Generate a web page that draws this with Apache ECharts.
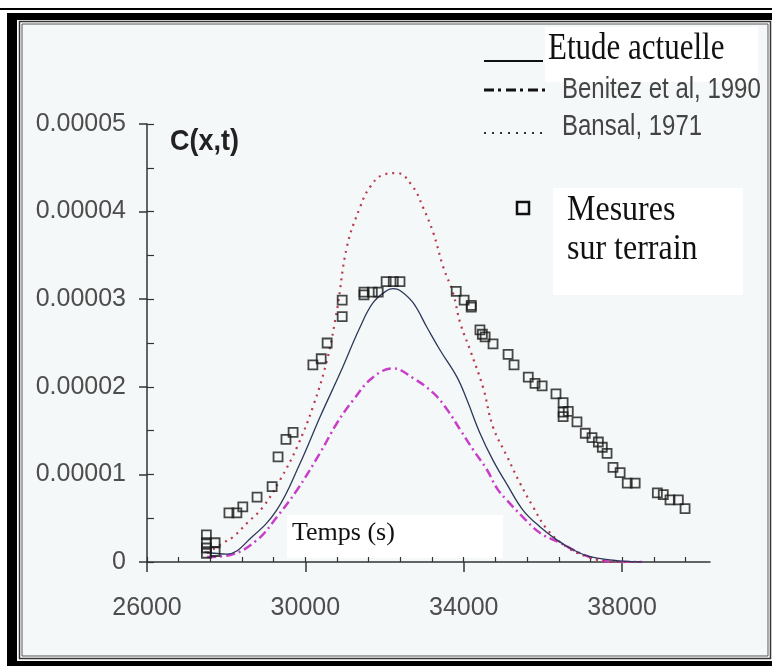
<!DOCTYPE html>
<html>
<head>
<meta charset="utf-8">
<script src="https://cdn.jsdelivr.net/npm/echarts/dist/echarts.min.js"></script>
<style>html,body{margin:0;padding:0;background:#fff;}#c{width:772px;height:666px;}</style>
</head>
<body>
<div id="c"></div>
<script>
// ---- data ----
const xMajorTicks = [26000, 30000, 34000, 38000];
const xMinorTicks = [26000, 26800, 27600, 28400, 29200, 30000, 30800, 31600, 32400, 33200, 34000, 34800, 35600, 36400, 37200, 38000, 38800, 39600];
const yMajorTicks = [0, 0.00001, 0.00002, 0.00003, 0.00004, 0.00005];
const yTickLabels = ['0', '0.00001', '0.00002', '0.00003', '0.00004', '0.00005'];
const yMinorTicks = [0, 0.000005, 0.00001, 0.000015, 0.00002, 0.000025, 0.00003, 0.000035, 0.00004, 0.000045, 0.00005];

// Etude actuelle (solid)
const etudeT = [27450, 28020, 28650, 29280, 29870, 30370, 30880, 31380, 31710, 32060, 32220, 32390, 32720, 33070, 33400, 33830, 34090, 34410, 34740, 35100, 35500, 35930, 36360, 36760, 37190, 37770, 38030, 38500];
const etudeC = [1.14e-6, 0.91e-6, 2.85e-6, 5.94e-6, 1.13e-5, 1.655e-5, 2.16e-5, 2.68e-5, 2.96e-5, 3.10e-5, 3.12e-5, 3.10e-5, 2.96e-5, 2.68e-5, 2.42e-5, 2.11e-5, 1.84e-5, 1.47e-5, 1.16e-5, 0.88e-5, 0.59e-5, 0.40e-5, 0.25e-5, 0.14e-5, 0.06e-5, 0.02e-5, 0.01e-5, 0];

// Benitez et al, 1990 (dash-dot)
const benitezT = [27520, 28100, 28780, 29280, 29790, 30370, 30800, 31210, 31710, 32220, 32720, 33230, 33580, 33910, 34240, 34590, 34840, 35100, 35500, 35930, 36430, 36940, 37450, 37950, 38500];
const benitezC = [0.57e-6, 0.80e-6, 2.51e-6, 5.14e-6, 8.22e-6, 1.244e-5, 1.587e-5, 1.85e-5, 2.11e-5, 2.21e-5, 2.10e-5, 1.93e-5, 1.74e-5, 1.51e-5, 1.28e-5, 1.05e-5, 0.84e-5, 0.70e-5, 0.51e-5, 0.33e-5, 0.22e-5, 0.10e-5, 0.02e-5, 0, 0];

// Bansal, 1971 (dotted)
const bansalT = [27520, 27920, 28170, 28530, 28930, 29360, 29790, 30190, 30550, 30800, 31050, 31380, 31630, 31960, 32320, 32720, 32970, 33230, 33480, 33730, 33910, 34160, 34490, 34740, 35100, 35420, 35750, 36110, 36610, 37120, 37770, 38500];
const bansalC = [1.03e-6, 2.17e-6, 2.85e-6, 4.45e-6, 6.28e-6, 9.36e-6, 1.313e-5, 1.77e-5, 2.31e-5, 2.88e-5, 3.60e-5, 4.05e-5, 4.28e-5, 4.42e-5, 4.44e-5, 4.28e-5, 4.05e-5, 3.76e-5, 3.37e-5, 3.07e-5, 2.73e-5, 2.42e-5, 1.99e-5, 1.54e-5, 1.20e-5, 0.90e-5, 0.63e-5, 0.37e-5, 0.17e-5, 0.06e-5, 0, 0];

// Mesures sur terrain (squares)
const mesuresT = [27500, 27500, 27500, 27500, 27720, 27720, 28070, 28270, 28420, 28780, 29160, 29310, 29510, 29690, 30190, 30400, 30550, 30930, 30930, 31480, 31480, 31690, 31840, 32040, 32220, 32390, 33810, 34010, 34190, 34190, 34410, 34470, 34540, 34740, 35120, 35270, 35630, 35800, 35980, 36330, 36510, 36510, 36640, 36510, 36860, 37070, 37240, 37400, 37500, 37620, 37770, 37950, 38130, 38330, 38890, 39040, 39210, 39420, 39590];
const mesuresC = [3.1e-6, 2.2e-6, 1.6e-6, 1.0e-6, 2.2e-6, 1.2e-6, 5.6e-6, 5.6e-6, 6.3e-6, 7.4e-6, 8.6e-6, 1.20e-5, 1.40e-5, 1.48e-5, 2.25e-5, 2.32e-5, 2.50e-5, 2.80e-5, 2.99e-5, 3.08e-5, 3.05e-5, 3.08e-5, 3.08e-5, 3.20e-5, 3.20e-5, 3.20e-5, 3.09e-5, 2.99e-5, 2.93e-5, 2.91e-5, 2.65e-5, 2.60e-5, 2.57e-5, 2.49e-5, 2.37e-5, 2.25e-5, 2.11e-5, 2.04e-5, 2.01e-5, 1.92e-5, 1.82e-5, 1.71e-5, 1.72e-5, 1.66e-5, 1.60e-5, 1.47e-5, 1.42e-5, 1.37e-5, 1.31e-5, 1.24e-5, 1.08e-5, 1.02e-5, 0.90e-5, 0.90e-5, 0.79e-5, 0.77e-5, 0.71e-5, 0.71e-5, 0.61e-5];

// ---- chart ----
const zip = (a, b) => a.map((v, i) => [v, b[i]]);
const SANS = "'Liberation Sans', Arial, sans-serif";
const SERIF = "'Liberation Serif', 'DejaVu Serif', serif";
const axisColor = '#333';
const labelColor = '#4d4d4d';
const X_MIN = 26000, X_MAX = 40220, Y_MIN = 0, Y_MAX = 0.00005;

const chart = echarts.init(document.getElementById('c'), null, {renderer: 'canvas'});

const frame = [
  {type: 'rect', z: -10, shape: {x: 0, y: 8, width: 772, height: 2}, style: {fill: '#000'}},
  {type: 'rect', z: -10, shape: {x: 7, y: 13, width: 765, height: 7}, style: {fill: '#000'}},
  {type: 'rect', z: -10, shape: {x: 7, y: 13, width: 10, height: 653}, style: {fill: '#000'}},
  {type: 'rect', z: -10, shape: {x: 7, y: 661, width: 765, height: 5}, style: {fill: '#000'}},
  {type: 'rect', z: -10, shape: {x: 19.5, y: 21.5, width: 751, height: 637}, style: {fill: 'none', stroke: '#333', lineWidth: 1.5}},
  {type: 'rect', z: -10, shape: {x: 22, y: 24, width: 746, height: 632}, style: {fill: '#f5f8f8', stroke: '#555', lineWidth: 1}},
  // white label boxes
  {type: 'rect', z: -5, shape: {x: 545, y: 27, width: 213, height: 55}, style: {fill: '#fff'}},
  {type: 'rect', z: -5, shape: {x: 553, y: 188, width: 190, height: 107}, style: {fill: '#fff'}},
  {type: 'rect', z: -5, shape: {x: 287, y: 515, width: 216, height: 43}, style: {fill: '#fff'}}
];

const legendEls = [
  {type: 'line', z: 5, shape: {x1: 484, y1: 61, x2: 543, y2: 61}, style: {stroke: '#111', lineWidth: 2}},
  {type: 'text', z: 5, x: 548, y: 49, scaleY: 1.2, style: {text: 'Etude actuelle', fontFamily: SERIF, fontSize: 31, fill: '#111', align: 'left', verticalAlign: 'middle'}},
  {type: 'line', z: 5, shape: {x1: 484, y1: 90, x2: 545, y2: 90}, style: {stroke: '#111', lineWidth: 3, lineDash: [10, 4, 3, 5]}},
  {type: 'text', z: 5, x: 562, y: 90, scaleY: 1.2, style: {text: 'Benitez et al, 1990', fontFamily: SANS, fontSize: 24, fill: '#444', align: 'left', verticalAlign: 'middle'}},
  {type: 'line', z: 5, shape: {x1: 484, y1: 133, x2: 542, y2: 133}, style: {stroke: '#333', lineWidth: 2, lineDash: [2, 6]}},
  {type: 'text', z: 5, x: 562, y: 127, scaleY: 1.2, style: {text: 'Bansal, 1971', fontFamily: SANS, fontSize: 24, fill: '#444', align: 'left', verticalAlign: 'middle'}},
  {type: 'rect', z: 5, shape: {x: 517, y: 202, width: 12, height: 12}, style: {fill: 'none', stroke: '#111', lineWidth: 2.5}},
  {type: 'text', z: 5, x: 567, y: 211, scaleY: 1.12, style: {text: 'Mesures', fontFamily: SERIF, fontSize: 32, fill: '#111', align: 'left', verticalAlign: 'middle'}},
  {type: 'text', z: 5, x: 567, y: 250, scaleY: 1.12, style: {text: 'sur terrain', fontFamily: SERIF, fontSize: 32, fill: '#111', align: 'left', verticalAlign: 'middle'}},
  {type: 'text', z: 5, x: 292, y: 533, style: {text: 'Temps (s)', fontFamily: SERIF, fontSize: 26, fill: '#111', align: 'left', verticalAlign: 'middle'}},
  {type: 'text', z: 5, x: 170, y: 142, scaleY: 1.12, style: {text: 'C(x,t)', fontFamily: SANS, fontSize: 27, fontWeight: 'bold', fill: '#222', align: 'left', verticalAlign: 'middle'}}
];

const option = {
  backgroundColor: '#fff',
  animation: false,
  grid: {left: 147, top: 124, right: 62, bottom: 104, show: false},
  xAxis: [
    {
      type: 'value', min: X_MIN, max: X_MAX, position: 'bottom',
      axisLine: {show: true, onZero: false, lineStyle: {color: axisColor, width: 1.5}},
      axisTick: {show: true, inside: false, length: 10, customValues: xMajorTicks, lineStyle: {color: axisColor, width: 1.5}},
      axisLabel: {show: true, customValues: xMajorTicks, formatter: v => String(v), margin: 33,
        fontFamily: SANS, fontSize: 25, lineHeight: 26, color: labelColor},
      splitLine: {show: false}
    },
    {
      type: 'value', min: X_MIN, max: X_MAX, position: 'bottom', gridIndex: 0,
      axisLine: {show: false, onZero: false},
      axisTick: {show: true, inside: true, length: 5, customValues: xMinorTicks, lineStyle: {color: axisColor, width: 1.2}},
      axisLabel: {show: false},
      splitLine: {show: false}
    }
  ],
  yAxis: [
    {
      type: 'value', min: Y_MIN, max: Y_MAX, position: 'left',
      axisLine: {show: true, onZero: false, lineStyle: {color: axisColor, width: 1.5}},
      axisTick: {show: true, inside: false, length: 8, customValues: yMajorTicks, lineStyle: {color: axisColor, width: 1.5}},
      axisLabel: {show: true, customValues: yMajorTicks, margin: 21,
        formatter: v => { const i = yMajorTicks.findIndex(t => Math.abs(t - v) < 1e-9); return i >= 0 ? yTickLabels[i] : ''; },
        fontFamily: SANS, fontSize: 25, lineHeight: 26, color: labelColor},
      splitLine: {show: false}
    },
    {
      type: 'value', min: Y_MIN, max: Y_MAX, position: 'left', gridIndex: 0,
      axisLine: {show: false, onZero: false},
      axisTick: {show: true, inside: true, length: 7, customValues: yMinorTicks, lineStyle: {color: axisColor, width: 1.2}},
      axisLabel: {show: false},
      splitLine: {show: false}
    }
  ],
  series: [
    {
      name: 'Benitez et al, 1990', type: 'line', xAxisIndex: 0, yAxisIndex: 0,
      data: zip(benitezT, benitezC), symbol: 'none', smooth: 0.4,
      lineStyle: {color: '#c83ec8', width: 2.5, type: [9, 4, 2, 4]}, z: 3
    },
    {
      name: 'Bansal, 1971', type: 'line', xAxisIndex: 0, yAxisIndex: 0,
      data: zip(bansalT, bansalC), symbol: 'none', smooth: 0.4,
      lineStyle: {color: '#b83a4c', width: 2.2, type: [2, 5]}, z: 3
    },
    {
      name: 'Etude actuelle', type: 'line', xAxisIndex: 0, yAxisIndex: 0,
      data: zip(etudeT, etudeC), symbol: 'none', smooth: 0.4,
      lineStyle: {color: '#2c3858', width: 1.3}, z: 4
    },
    {
      name: 'Mesures sur terrain', type: 'scatter', xAxisIndex: 0, yAxisIndex: 0,
      data: zip(mesuresT, mesuresC), symbol: 'rect', symbolSize: 9,
      itemStyle: {color: 'rgba(0,0,0,0)', borderColor: '#1a1a1a', borderWidth: 1.8}, z: 5
    }
  ],
  graphic: {elements: frame.concat(legendEls)}
};

chart.setOption(option);
</script>
</body>
</html>
